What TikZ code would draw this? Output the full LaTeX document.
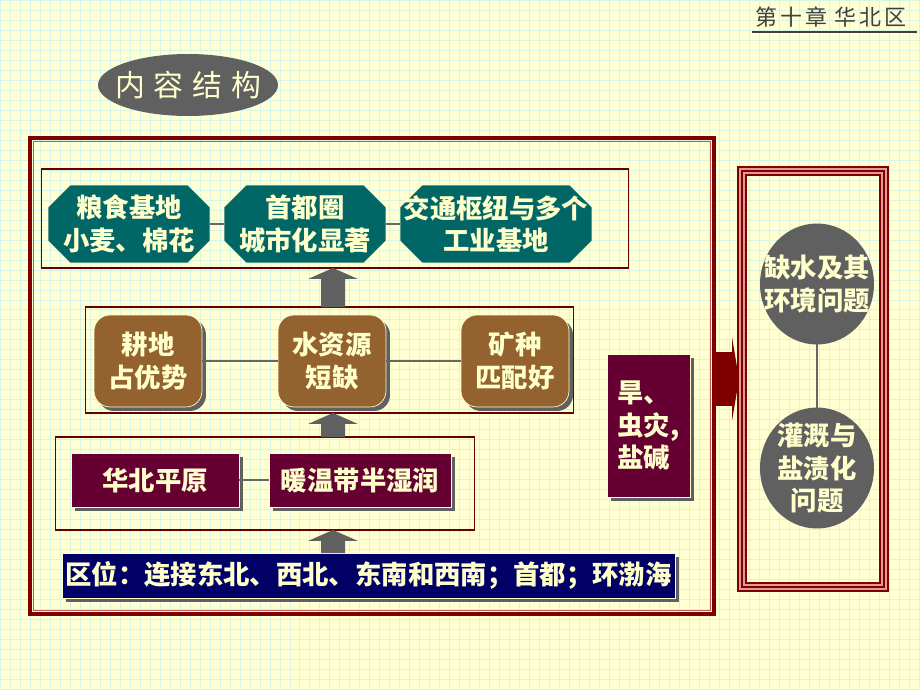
\documentclass[tikz,border=0pt]{standalone}
\usepackage{fontspec}
\setmainfont{Noto Sans CJK SC}
\usetikzlibrary{shapes.geometric,shadows}
\definecolor{paper}{HTML}{FFFFD2}
\definecolor{gridc}{HTML}{D5F6E6}
\definecolor{cream}{HTML}{FFFFCC}
\definecolor{tealbox}{HTML}{006666}
\definecolor{brownbox}{HTML}{94622F}
\definecolor{wine}{HTML}{660033}
\definecolor{navybox}{HTML}{000066}
\definecolor{slate}{HTML}{606060}
\definecolor{framered}{HTML}{800000}
\definecolor{salmon}{HTML}{E09A9A}
\definecolor{thinred}{HTML}{660000}
\definecolor{hdrgray}{HTML}{404040}

\begin{document}
\begin{tikzpicture}[x=0.02cm,y=-0.02cm,
  every node/.style={inner sep=0pt,outer sep=0pt},
  boxtext/.style={text=cream,font=\fontsize{15}{18.5}\selectfont\bfseries,align=center},
  octagon/.pic={\path[pic actions] (-#1,0.34cm) -- ({-#1+0.44cm},0.78cm) -- ({#1-0.44cm},0.78cm)
    -- (#1,0.34cm) -- (#1,-0.34cm) -- ({#1-0.44cm},-0.78cm) -- ({-#1+0.44cm},-0.78cm)
    -- (-#1,-0.34cm) -- cycle;},
  octfill/.style={fill=tealbox,draw=cream,line width=0.4pt,
    drop shadow={opacity=1,fill=black,shadow xshift=0.06cm,shadow yshift=-0.06cm}},
  octbox/.style={boxtext,rectangle,minimum height=1.56cm},
  brownbox/.style={boxtext,rectangle,rounded corners=0.32cm,fill=brownbox,draw=cream,
    line width=0.4pt,minimum width=2.16cm,minimum height=1.84cm,
    drop shadow={opacity=1,fill=slate,shadow xshift=0.08cm,shadow yshift=-0.08cm}},
  winebox/.style={boxtext,rectangle,fill=wine,draw=cream,line width=0.4pt,
    minimum height=1.08cm,
    drop shadow={opacity=1,fill=slate,shadow xshift=0.08cm,shadow yshift=-0.08cm}},
  disc/.style={boxtext,ellipse,fill=slate,inner sep=-0.3cm,minimum width=2.28cm,minimum height=2.42cm},
  rowframe/.style={rectangle,draw=thinred,line width=0.6pt},
  link/.style={draw=hdrgray!80,line width=0.6pt}]
\useasboundingbox (0,0) rectangle (920,690);
\fill[paper] (0,0) rectangle (920,690);
\draw[gridc,line width=0.5pt,step=0.2cm] (0,690) grid (920,0);

\node[text=hdrgray,font=\fontsize{12.5}{12.5}\selectfont] (chapter) at (831,17)
  {第\hspace{1.7pt}十\hspace{1.7pt}章\hspace{4.5pt}华\hspace{1.7pt}北\hspace{1.7pt}区};
\draw[hdrgray,line width=0.7pt] (752,32) -- (917,32);
\node[ellipse,fill=slate,inner sep=-0.3cm,minimum width=3.6cm,minimum height=1.24cm,text=cream,
  font=\fontsize{17}{17}\selectfont] (title) at (188,85)
  {内\hspace{5pt}容\hspace{5pt}结\hspace{5pt}构};

\node[rectangle,draw=framered,line width=0.08cm,minimum width=13.68cm,minimum height=9.52cm] (mainframe) at (372,376) {};
\draw[salmon!60!framered,line width=0.5pt] ([shift={(0.07cm,-0.07cm)}]mainframe.north west) rectangle ([shift={(-0.07cm,0.07cm)}]mainframe.south east);
\node[rectangle,draw=salmon,line width=0.2cm,minimum width=2.84cm,minimum height=8.32cm] (sideframe) at (813,379) {};
\draw[framered,line width=0.04cm] (sideframe.north west) rectangle (sideframe.south east);
\draw[framered,line width=0.04cm] ([shift={(-0.08cm,0.08cm)}]sideframe.north west) rectangle ([shift={(0.08cm,-0.08cm)}]sideframe.south east);
\draw[framered,line width=0.04cm] ([shift={(0.08cm,-0.08cm)}]sideframe.north west) rectangle ([shift={(-0.08cm,0.08cm)}]sideframe.south east);

\node[rowframe,minimum width=11.76cm,minimum height=1.98cm] (toprow) at (335,218.5) {};
\node[rowframe,minimum width=9.78cm,minimum height=2.12cm] (midrow) at (329.5,360) {};
\node[rowframe,minimum width=8.4cm,minimum height=1.86cm] (baserow) at (265,483.5) {};

\pic[octfill] at (129,224) {octagon=1.62cm};
\pic[octfill] at (305,224) {octagon=1.62cm};
\pic[octfill] at (496,224) {octagon=1.92cm};
\node[octbox,minimum width=3.24cm] (grain) at (129,224) {粮食基地\\小麦、棉花};
\node[octbox,minimum width=3.24cm] (capital) at (305,224) {首都圈\\城市化显著};
\node[octbox,minimum width=3.84cm] (traffic) at (496,224) {交通枢纽与多个\\工业基地};
\draw[link] (grain) -- (capital);
\draw[link] (capital) -- (traffic);

\node[brownbox] (farm) at (148,361) {耕地\\占优势};
\node[brownbox] (water) at (332,361) {水资源\\短缺};
\node[brownbox] (mine) at (515,361) {矿种\\匹配好};
\draw[link] (farm) -- (water);
\draw[link] (water) -- (mine);

\node[winebox,minimum width=3.36cm] (plain) at (155,480) {华北平原};
\node[winebox,minimum width=3.64cm] (climate) at (360,480) {暖温带半湿润};
\draw[link] (plain) -- (climate);

\node[winebox,fill=navybox,minimum width=12.26cm,minimum height=0.9cm] (loc) at (368.5,575.5)
  {区位：连接东北、西北、东南和西南；首都；环渤海};
\node[winebox,minimum width=1.66cm,minimum height=2.86cm,align=left] (hazard) at (648.5,425.5)
  {旱、\\虫灾,\\盐碱};

\coordinate (ax) at (333,0);
\foreach \lo/\hi in {midrow/toprow,baserow/midrow,loc/baserow}{
  \coordinate (b) at (ax |- \lo.north);
  \coordinate (t) at (ax |- \hi.south);
  \fill[slate] ([xshift=-0.24cm]b) -- ([xshift=-0.24cm,yshift=-0.22cm]t)
    -- ([xshift=-0.5cm,yshift=-0.22cm]t) -- (t) -- ([xshift=0.5cm,yshift=-0.22cm]t)
    -- ([xshift=0.24cm,yshift=-0.22cm]t) -- ([xshift=0.24cm]b) -- cycle;
}

\coordinate (ra) at (mainframe.east |- sideframe.west);
\coordinate (tip) at ([xshift=-0.06cm]sideframe.west);
\fill[framered] ([yshift=0.54cm]ra) -- ([xshift=-0.14cm,yshift=0.54cm]tip)
  -- ([xshift=-0.14cm,yshift=0.84cm]tip) -- (tip) -- ([xshift=-0.14cm,yshift=-0.84cm]tip)
  -- ([xshift=-0.14cm,yshift=-0.54cm]tip) -- ([yshift=-0.54cm]ra) -- cycle;

\node[disc] (scarce) at (817,284) {缺水及其\\环境问题};
\node[disc] (irrig) at (817,468) {灌溉与\\盐渍化\\问题};
\draw[link] (scarce) -- (irrig);
\end{tikzpicture}
\end{document}
